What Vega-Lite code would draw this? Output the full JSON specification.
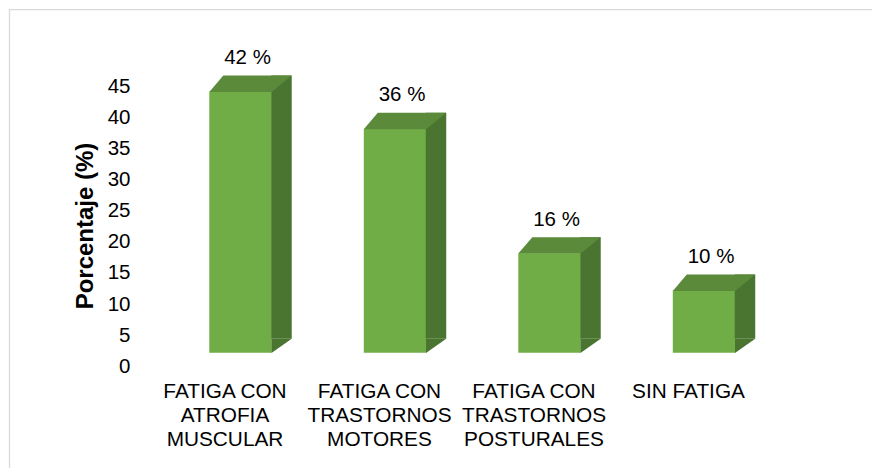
{
  "$schema": "https://vega.github.io/schema/vega-lite/v6.json",
  "autosize": {"type": "none"},
  "padding": {"left": 9.3, "top": 9.5, "right": -5, "bottom": -5},
  "width": 867.7,
  "height": 463.5,
  "background": "white",
  "config": {
    "view": {"stroke": "#d9d9d9", "strokeWidth": 1.3},
    "font": "Liberation Sans"
  },
  "data": {
    "values": [
      {"categoria": "FATIGA CON ATROFIA MUSCULAR", "porcentaje": 42},
      {"categoria": "FATIGA CON TRASTORNOS MOTORES", "porcentaje": 36},
      {"categoria": "FATIGA CON TRASTORNOS POSTURALES", "porcentaje": 16},
      {"categoria": "SIN FATIGA", "porcentaje": 10}
    ]
  },
  "encoding": {
    "x": {
      "field": "categoria",
      "type": "nominal",
      "sort": null,
      "scale": {"type": "band", "paddingInner": 0, "paddingOuter": 0.8081, "align": 0.6165},
      "axis": {
        "title": null,
        "domain": false,
        "ticks": false,
        "tickSize": 0,
        "grid": false,
        "labelPadding": 0,
        "offset": -91.9,
        "labelOffset": -15.5,
        "labelAngle": 0,
        "labelFont": "Liberation Sans",
        "labelFontSize": 20.8,
        "labelColor": "#000000",
        "labelLineHeight": 24,
        "labelLimit": 0,
        "labelExpr": "datum.label == 'SIN FATIGA' ? datum.label : split(replace(replace(replace(datum.label, 'CON ', 'CON|'), 'ATROFIA ', 'ATROFIA|'), 'TRASTORNOS ', 'TRASTORNOS|'), '|')"
      }
    },
    "y": {
      "field": "porcentaje",
      "type": "quantitative",
      "scale": {"domain": [-19.34, 55.18], "nice": false, "zero": false},
      "axis": {
        "title": "Porcentaje (%)",
        "values": [0, 5, 10, 15, 20, 25, 30, 35, 40, 45],
        "domain": false,
        "ticks": false,
        "tickSize": 0,
        "grid": false,
        "labelPadding": 0,
        "offset": -120.7,
        "labelOffset": 13.5,
        "labelFont": "Liberation Sans",
        "labelFontSize": 20.5,
        "labelColor": "#000000",
        "titleFont": "Liberation Sans",
        "titleFontSize": 24,
        "titleFontWeight": "bold",
        "titleColor": "#000000",
        "titlePadding": 10,
        "titleY": 216
      }
    }
  },
  "layer": [
    {
      "mark": {"type": "bar", "width": 62.4, "color": "#70AD47"},
      "encoding": {"y2": {"datum": 0}}
    },
    {
      "mark": {"type": "bar", "width": 20.5, "xOffset": 41.0, "yOffset": -16, "y2Offset": -14, "color": "#4A7530"},
      "encoding": {"y2": {"datum": 0}}
    },
    {
      "mark": {"type": "point", "shape": "M 31 -14 L 31 0.3 L 51.2 -14 Z", "size": 4, "filled": true, "opacity": 1, "strokeWidth": 0, "color": "#4A7530"},
      "encoding": {"y": {"datum": 0, "type": "quantitative"}}
    },
    {
      "mark": {"type": "point", "shape": "M -31.2 0.4 L 31.2 0.4 L 51.2 -16 L -17.2 -16 Z", "size": 4, "filled": true, "opacity": 1, "strokeWidth": 0, "color": "#5A8A3A"}
    },
    {
      "transform": [{"calculate": "datum.porcentaje + ' %'", "as": "etiqueta"}],
      "mark": {"type": "text", "font": "Liberation Sans", "fontSize": 20.5, "color": "#000000", "baseline": "alphabetic", "dx": 7, "dy": -27.5},
      "encoding": {"text": {"field": "etiqueta", "type": "nominal"}}
    }
  ]
}
